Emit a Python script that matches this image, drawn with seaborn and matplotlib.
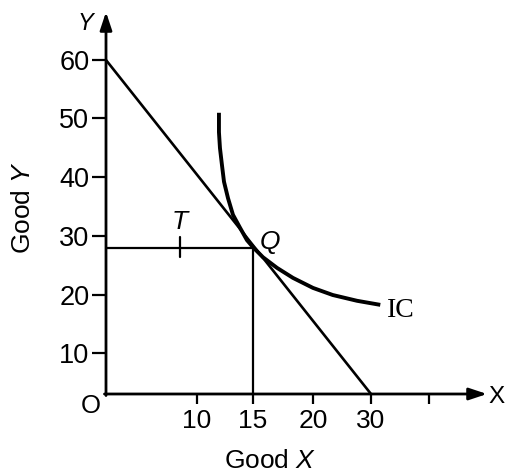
import numpy as np
import pandas as pd
import matplotlib
matplotlib.use("Agg")
import matplotlib.pyplot as plt
import seaborn as sns

# ---- data ----
x_ticks = [10, 15, 20, 30, 40]
x_tick_labels = ["10", "15", "20", "30", ""]
y_ticks = [10, 20, 30, 40, 50, 60]
y_tick_labels = ["10", "20", "30", "40", "50", "60"]

budget_x = [0, 30]
budget_y = [60, 0]

ic_x = [11.96, 11.96, 12.05, 12.23, 12.41, 12.77, 13.21, 13.84, 14.46, 15.0,
        15.83, 17.0, 18.33, 20.0, 23.4, 27.6, 31.6]
ic_y = [50.9, 47.6, 44.9, 42.0, 39.2, 36.4, 33.6, 31.4, 29.3, 28.1,
        26.4, 24.6, 22.9, 21.2, 20.0, 19.0, 18.3]

q_x, q_y = 15, 28
t_x = 8.1
t_y_span = [26.4, 29.8]

# ---- schematic (non-uniform) axis scales of the drawing ----
x_break_vals = [0, 10, 15, 20, 30, 40]
x_break_pos = [0, 91, 147, 207, 265, 323]
y_break_vals = [0, 10, 20, 30, 40, 50, 60]
y_break_pos = [0, 41, 99, 158, 217, 276, 334]


def piecewise(vals, pos):
    vals = np.asarray(vals, float)
    pos = np.asarray(pos, float)
    s0 = (pos[1] - pos[0]) / (vals[1] - vals[0])
    s1 = (pos[-1] - pos[-2]) / (vals[-1] - vals[-2])

    def fwd(v):
        v = np.asarray(v, float)
        return np.where(v < vals[0], pos[0] + (v - vals[0]) * s0,
                        np.where(v > vals[-1], pos[-1] + (v - vals[-1]) * s1,
                                 np.interp(v, vals, pos)))

    def inv(p):
        p = np.asarray(p, float)
        return np.where(p < pos[0], vals[0] + (p - pos[0]) / s0,
                        np.where(p > pos[-1], vals[-1] + (p - pos[-1]) / s1,
                                 np.interp(p, pos, vals)))
    return fwd, inv


sns.set_theme(style="white")
plt.rcParams["font.family"] = ["Liberation Sans", "DejaVu Sans"]
plt.rcParams["mathtext.fontset"] = "custom"
plt.rcParams["mathtext.it"] = "Liberation Sans:italic"
plt.rcParams["mathtext.rm"] = "Liberation Sans"
plt.rcParams["text.color"] = "black"
plt.rcParams["axes.labelcolor"] = "black"
plt.rcParams["xtick.color"] = "black"
plt.rcParams["ytick.color"] = "black"

W, H = 507, 474
fig = plt.figure(figsize=(W / 100, H / 100), dpi=100)
ox, oy = 106, 394           # origin in pixels
right_px, top_px = 487, 12
ax = fig.add_axes([ox / W, (H - oy) / H, (right_px - ox) / W, (oy - top_px) / H])

fx, ix = piecewise(x_break_vals, x_break_pos)
fy, iy = piecewise(y_break_vals, y_break_pos)
ax.set_xscale("function", functions=(fx, ix))
ax.set_yscale("function", functions=(fy, iy))
ax.set_xlim(0, float(ix(right_px - ox)))
ax.set_ylim(0, float(iy(oy - top_px)))

for s in ax.spines.values():
    s.set_visible(False)

# axes with arrow heads
arrow = dict(arrowstyle="-|>,head_length=0.9,head_width=0.3",
             lw=2.0, color="black", shrinkA=0, shrinkB=0)
ax.annotate("", xy=(1, 0), xytext=(-0.004, 0), xycoords="axes fraction",
            arrowprops=arrow, annotation_clip=False)
ax.annotate("", xy=(0, 1), xytext=(0, -0.004), xycoords="axes fraction",
            arrowprops=arrow, annotation_clip=False)

common = dict(sort=False, estimator=None, color="black", ax=ax)
# budget line
sns.lineplot(x=budget_x, y=budget_y, lw=1.9, **common)
# indifference curve
sns.lineplot(x=ic_x, y=ic_y, lw=2.8, solid_joinstyle="round",
             solid_capstyle="butt", **common)
# guide lines to Q
sns.lineplot(x=[0, q_x], y=[q_y, q_y], lw=1.6, **common)
sns.lineplot(x=[q_x, q_x], y=[0, q_y], lw=1.6, **common)
# T mark
sns.lineplot(x=[t_x, t_x], y=t_y_span, lw=1.6, **common)

ax.set_xticks(x_ticks)
ax.set_xticklabels(x_tick_labels)
ax.set_yticks(y_ticks)
ax.set_yticklabels(y_tick_labels)
ax.minorticks_off()
ax.tick_params(axis="x", direction="out", length=7, width=1.6, pad=3.5,
               labelsize=19, colors="black", bottom=True)
ax.tick_params(axis="y", direction="out", length=10, width=1.6, pad=2,
               labelsize=19.5, colors="black", left=True)
ax.set_xlabel("")
ax.set_ylabel("")

# point labels
ax.annotate("T", xy=(t_x, t_y_span[1]), xytext=(0, 11), textcoords="offset points",
            fontsize=19, style="italic", ha="center", va="center")
ax.annotate("Q", xy=(q_x, q_y), xytext=(12, 4), textcoords="offset points",
            fontsize=19, style="italic", ha="center", va="center")
ax.annotate("IC", xy=(ic_x[-1], ic_y[-1]), xytext=(15, -4.3), textcoords="offset points",
            fontsize=20, family="Liberation Serif", ha="center", va="center")

fig.text(91 / W, 1 - 406 / H, "O", fontsize=18.5, ha="center", va="center")
fig.text(85 / W, 1 - 24 / H, "Y", fontsize=17, style="italic", ha="center", va="center")
fig.text(497 / W, 1 - 397 / H, "X", fontsize=17.5, ha="center", va="center")
fig.text(270 / W, 1 - 461 / H, "Good $X$", fontsize=19, ha="center", va="center")
fig.text(23 / W, 1 - 207 / H, "Good $Y$", fontsize=19, ha="center", va="center",
         rotation=90)

fig.savefig("out.png", dpi=100)
